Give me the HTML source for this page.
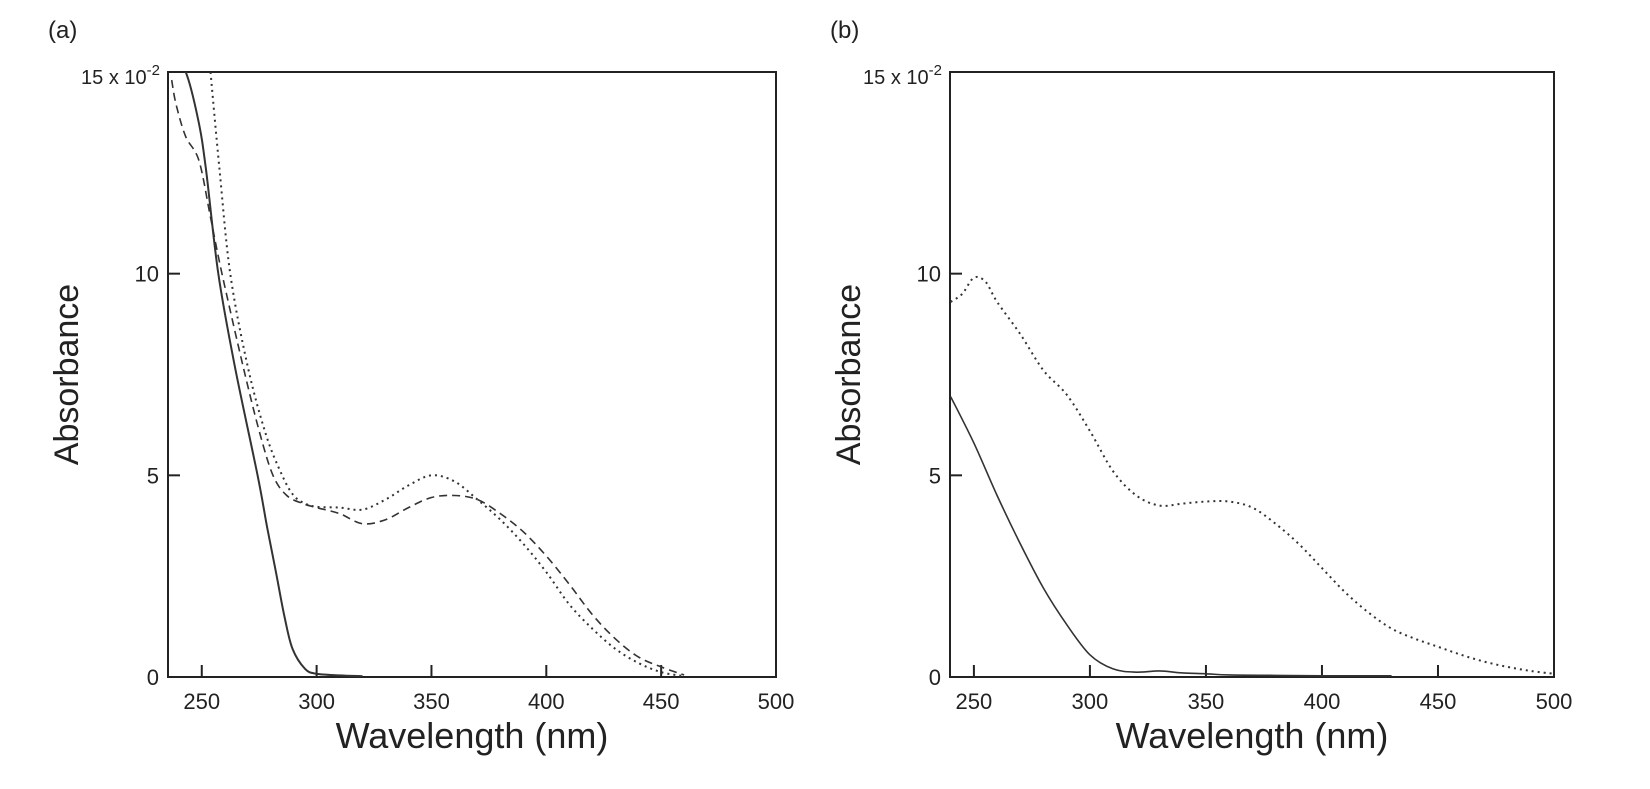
<!DOCTYPE html>
<html><head><meta charset="utf-8"><style>
body{margin:0;background:#fff;width:1650px;height:784px;overflow:hidden}
svg{font-family:"Liberation Sans",sans-serif}
</style></head><body>
<svg id="svg" width="1650" height="784" xmlns="http://www.w3.org/2000/svg"></svg>
<script>
const xTicks=[250,300,350,400,450,500];
const yTicks=[0,5,10];
const aSolidX=[236,243,248.5,251.8,257.2,264.4,274.3,278.5,282.3,286,289.5,295,300,310,320];
const aSolidY=[15.5,15,13.8,12.6,10,7.7,5,3.7,2.6,1.5,0.7,0.2,0.08,0.04,0.02];
const aDashX=[236.9,238.8,243,248.8,253.8,258.8,268,275,281,287,294,300,310,320,330,340,350,360,370,380,390,400,410,420,430,440,450,460];
const aDashY=[14.8,14.2,13.4,12.8,11.4,10,7.7,6.1,5.0,4.5,4.3,4.2,4.05,3.8,3.9,4.2,4.45,4.5,4.4,4.05,3.6,3.0,2.3,1.55,0.95,0.5,0.25,0.05];
const aDotX=[253.8,257.7,262.4,270,278,285,290,295,300,310,320,330,340,350,360,370,380,390,400,410,420,430,440,450,460];
const aDotY=[15,12.6,10,7.7,6.0,5.0,4.5,4.3,4.22,4.2,4.15,4.4,4.75,5.0,4.85,4.4,3.9,3.3,2.6,1.8,1.2,0.7,0.35,0.12,0.02];
const bSolidX=[240,250,260,270,280,290,300,310,320,330,340,350,360,380,400,430];
const bSolidY=[6.95,5.8,4.5,3.3,2.2,1.3,0.55,0.2,0.12,0.15,0.1,0.08,0.05,0.04,0.03,0.03];
const bDotX=[240,245,250,255,260,270,280,290,300,310,320,330,340,350,360,370,380,390,400,410,420,430,440,450,460,470,480,490,500];
const bDotY=[9.3,9.5,9.9,9.8,9.3,8.5,7.6,7.0,6.1,5.1,4.5,4.25,4.3,4.35,4.35,4.2,3.8,3.3,2.7,2.1,1.6,1.2,0.95,0.75,0.55,0.38,0.25,0.15,0.08];
const NS="http://www.w3.org/2000/svg";
const svg=document.getElementById('svg');
function mk(t,a,p){const e=document.createElementNS(NS,t);for(const k in a)e.setAttribute(k,a[k]);(p||svg).appendChild(e);return e;}
function panel(id,L,R,x0,x1,series,label){
  const T=72,B=677;
  const g=mk('g',{});
  
  
  const sx=v=>L+(v-x0)/(x1-x0)*(R-L);
  const sy=v=>B-v/15*(B-T);
  const fr=mk('rect',{x:L,y:T,width:R-L,height:B-T,fill:'none',stroke:'#222','stroke-width':2},g);
  
  
  xTicks.forEach(v=>{
    const x=sx(v);
    if(v<500){const tk=mk('line',{x1:x,x2:x,y1:B,y2:B-12,stroke:'#222','stroke-width':2},g);
    
    }
    const t=mk('text',{x:x,y:B+32,'font-size':22,'text-anchor':'middle',fill:'#222'},g);
    t.textContent=v;
    
    
  });
  yTicks.forEach(v=>{
    const y=sy(v);
    if(v>0){const tk=mk('line',{x1:L,x2:L+12,y1:y,y2:y,stroke:'#222','stroke-width':2},g);
    
    }
    const t=mk('text',{x:L-9,y:y+8,'font-size':22,'text-anchor':'end',fill:'#222'},g);
    t.textContent=v;
    
    
  });
  const top=mk('text',{x:L-8,y:T+12,'font-size':20,'text-anchor':'end',fill:'#222'},g);
  top.innerHTML='15 x 10<tspan dy="-9" font-size="15">-2</tspan>';
  
  
  const yt=mk('text',{x:0,y:0,'font-size':34,'text-anchor':'middle',fill:'#222',transform:`translate(${L-90},${(T+B)/2}) rotate(-90)`},g);
  yt.textContent='Absorbance';
  
  
  const xt=mk('text',{x:(L+R)/2,y:748,'font-size':36,'text-anchor':'middle',fill:'#222'},g);
  xt.textContent='Wavelength (nm)';
  
  
  const pl=mk('text',{x:L-120,y:38,'font-size':24,fill:'#222'},g);
  pl.textContent=label;
  
  
  const clip=mk('clipPath',{id:'c'+id},g);
  mk('rect',{x:L,y:T,width:R-L,height:B-T},clip);
  series.forEach(s=>{
    const P=s.xs.map((x,i)=>[sx(x),sy(s.ys[i])]);
    let d='M'+P[0][0]+','+P[0][1];
    for(let i=0;i<P.length-1;i++){
      const p0=P[Math.max(i-1,0)],p1=P[i],p2=P[i+1],p3=P[Math.min(i+2,P.length-1)];
      d+=` C${p1[0]+(p2[0]-p0[0])/6},${p1[1]+(p2[1]-p0[1])/6} ${p2[0]-(p3[0]-p1[0])/6},${p2[1]-(p3[1]-p1[1])/6} ${p2[0]},${p2[1]}`;
    }
    const p=mk('path',{d:d,fill:'none',stroke:'#333','stroke-width':s.w,'stroke-dasharray':s.dash,'clip-path':`url(#c${id})`},g);
    
    
  });
}
panel('a',168,776,235.3,500,[
  {xs:aSolidX,ys:aSolidY,dash:'none',w:2,name:'series-solid'},
  {xs:aDashX,ys:aDashY,dash:'8,5',w:1.6,name:'series-dashed'},
  {xs:aDotX,ys:aDotY,dash:'2,4',w:2,name:'series-dotted'}],'(a)');
panel('b',950,1554,239.7,500,[
  {xs:bSolidX,ys:bSolidY,dash:'none',w:1.6,name:'series-solid'},
  {xs:bDotX,ys:bDotY,dash:'2,4',w:2,name:'series-dotted'}],'(b)');
</script>
</body></html>
